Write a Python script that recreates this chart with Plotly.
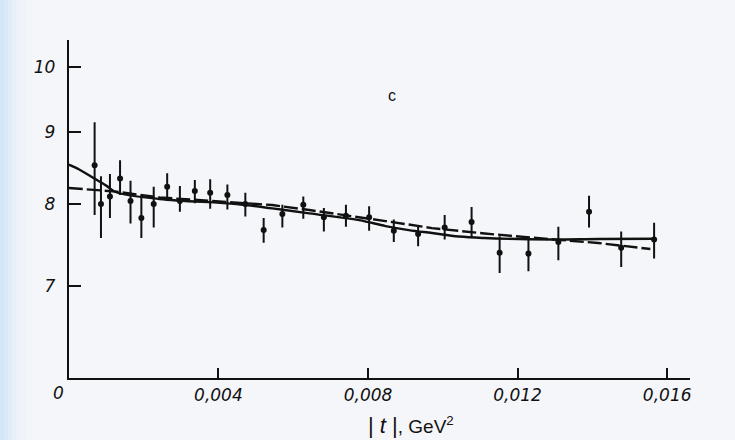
import plotly.graph_objects as go

# Measured points: |t| (GeV^2), value, upper and lower error-bar ends
t_pts = [0.00069, 0.00086, 0.00110, 0.00137, 0.00165, 0.00194, 0.00227, 0.00263,
         0.00297, 0.00337, 0.00378, 0.00424, 0.00472, 0.00521, 0.00571, 0.00627,
         0.00682, 0.00741, 0.00803, 0.00869, 0.00934, 0.01005, 0.01077, 0.01152,
         0.01229, 0.01309, 0.01391, 0.01477, 0.01565]
y_pts = [8.52, 8.00, 8.10, 8.34, 8.04, 7.82, 8.00, 8.23,
         8.04, 8.17, 8.15, 8.12, 8.00, 7.67, 7.87, 7.99,
         7.83, 7.85, 7.83, 7.66, 7.62, 7.70, 7.77, 7.39,
         7.38, 7.52, 7.90, 7.45, 7.55]
y_hi = [9.14, 8.37, 8.40, 8.59, 8.31, 8.11, 8.23, 8.41,
        8.24, 8.32, 8.33, 8.26, 8.15, 7.82, 7.99, 8.10,
        7.95, 7.99, 7.97, 7.80, 7.73, 7.86, 7.96, 7.59,
        7.57, 7.71, 8.11, 7.65, 7.76]
y_lo = [7.86, 7.57, 7.82, 8.12, 7.75, 7.57, 7.70, 8.05,
        7.90, 8.01, 7.94, 7.93, 7.84, 7.51, 7.70, 7.81,
        7.65, 7.71, 7.66, 7.52, 7.47, 7.55, 7.58, 7.15,
        7.17, 7.30, 7.70, 7.22, 7.32]

# Solid fit curve (with the rise towards t = 0)
t_solid = [0.0, 0.00029, 0.00065, 0.00101, 0.00127, 0.00243, 0.00448, 0.00544,
           0.00643, 0.00776, 0.00847, 0.00909, 0.00971, 0.01043, 0.01112, 0.01203,
           0.01296, 0.01416, 0.01568]
y_solid = [8.53, 8.46, 8.35, 8.24, 8.155, 8.066, 8.00, 7.944,
           7.88, 7.794, 7.718, 7.668, 7.631, 7.588, 7.569, 7.557,
           7.552, 7.557, 7.561]

# Dashed fit curve
t_dash = [0.0, 0.00128, 0.00243, 0.00448, 0.00544, 0.00643, 0.00776, 0.00847,
          0.00971, 0.01112, 0.01296, 0.01416, 0.01555]
y_dash = [8.212, 8.163, 8.086, 8.013, 7.987, 7.922, 7.836, 7.781,
          7.693, 7.625, 7.552, 7.508, 7.435]

x_tickvals = [0.004, 0.008, 0.012, 0.016]
x_ticktext = ["0,004", "0,008", "0,012", "0,016"]
y_tickvals = [7, 8, 9, 10]
y_ticktext = ["7", "8", "9", "10"]

W, H = 735, 440
BG = "#f5f6fa"
INK = "#111111"

fig = go.Figure()

fig.add_trace(go.Scatter(
    x=t_dash, y=y_dash, mode="lines", line=dict(color=INK, width=2.4, dash="14px,4px"),
    hoverinfo="skip", showlegend=False))
fig.add_trace(go.Scatter(
    x=t_solid, y=y_solid, mode="lines", line=dict(color=INK, width=2.4, shape="spline"),
    hoverinfo="skip", showlegend=False))

fig.add_trace(go.Scatter(
    x=t_pts, y=y_pts, mode="markers",
    marker=dict(color=INK, size=6),
    error_y=dict(type="data", symmetric=False,
                 array=[h - v for h, v in zip(y_hi, y_pts)],
                 arrayminus=[v - l for v, l in zip(y_pts, y_lo)],
                 color=INK, thickness=2, width=0),
    showlegend=False))

# soft bluish band along the left edge of the page
band = [(0, 4, "#d4e6f6"), (4, 8, "#d9e9f7"), (8, 12, "#e0edf8"), (12, 16, "#e6f0f9"),
        (16, 20, "#ebf2f9"), (20, 26, "#eff3f9"), (26, 32, "#f2f5fa")]
shapes = [dict(type="rect", xref="paper", yref="paper", x0=a / W, x1=b / W, y0=0, y1=1,
               fillcolor=c, line=dict(width=0), layer="below") for a, b, c in band]

x0, x1 = 69, 692
y_top, y_bot = 40, 378

tick_font = dict(family="DejaVu Sans", size=17, color=INK, style="italic")

fig.update_layout(
    width=W, height=H,
    margin=dict(l=0, r=0, t=0, b=0),
    paper_bgcolor=BG, plot_bgcolor="rgba(0,0,0,0)",
    shapes=shapes,
    xaxis=dict(
        domain=[x0 / W, x1 / W], range=[0, 0.016613],
        showgrid=False, zeroline=False,
        showline=True, linecolor=INK, linewidth=2,
        ticks="inside", ticklen=10, tickwidth=2, tickcolor=INK,
        tickvals=x_tickvals, ticktext=x_ticktext,
        tickfont=tick_font,
        ticklabelstandoff=1,
    ),
    yaxis=dict(
        domain=[(H - y_bot) / H, (H - y_top) / H],
        type="log", range=[0.78006, 1.0191],
        showgrid=False, zeroline=False,
        showline=True, linecolor=INK, linewidth=2,
        ticks="inside", ticklen=12, tickwidth=2, tickcolor=INK,
        tickvals=y_tickvals, ticktext=y_ticktext,
        tickfont=tick_font,
        ticklabelstandoff=8,
    ),
    annotations=[
        dict(text="0", x=0, y=(H - 393) / H, xref="x", yref="paper", xshift=-10,
             showarrow=False, xanchor="center", yanchor="middle", font=tick_font),
        dict(text="c", x=393 / W, y=(H - 96) / H, xref="paper", yref="paper",
             showarrow=False, xanchor="center", yanchor="middle",
             font=dict(family="Liberation Sans", size=16, color=INK)),
        dict(text="<span style='font-size:22px'>| <i>t</i> |</span>, GeV<sup>2</sup>",
             x=412 / W, y=(H - 425) / H, xref="paper", yref="paper",
             showarrow=False, xanchor="center", yanchor="middle",
             font=dict(family="Liberation Sans", size=19, color=INK)),
    ],
)

fig.write_html("out.html")
